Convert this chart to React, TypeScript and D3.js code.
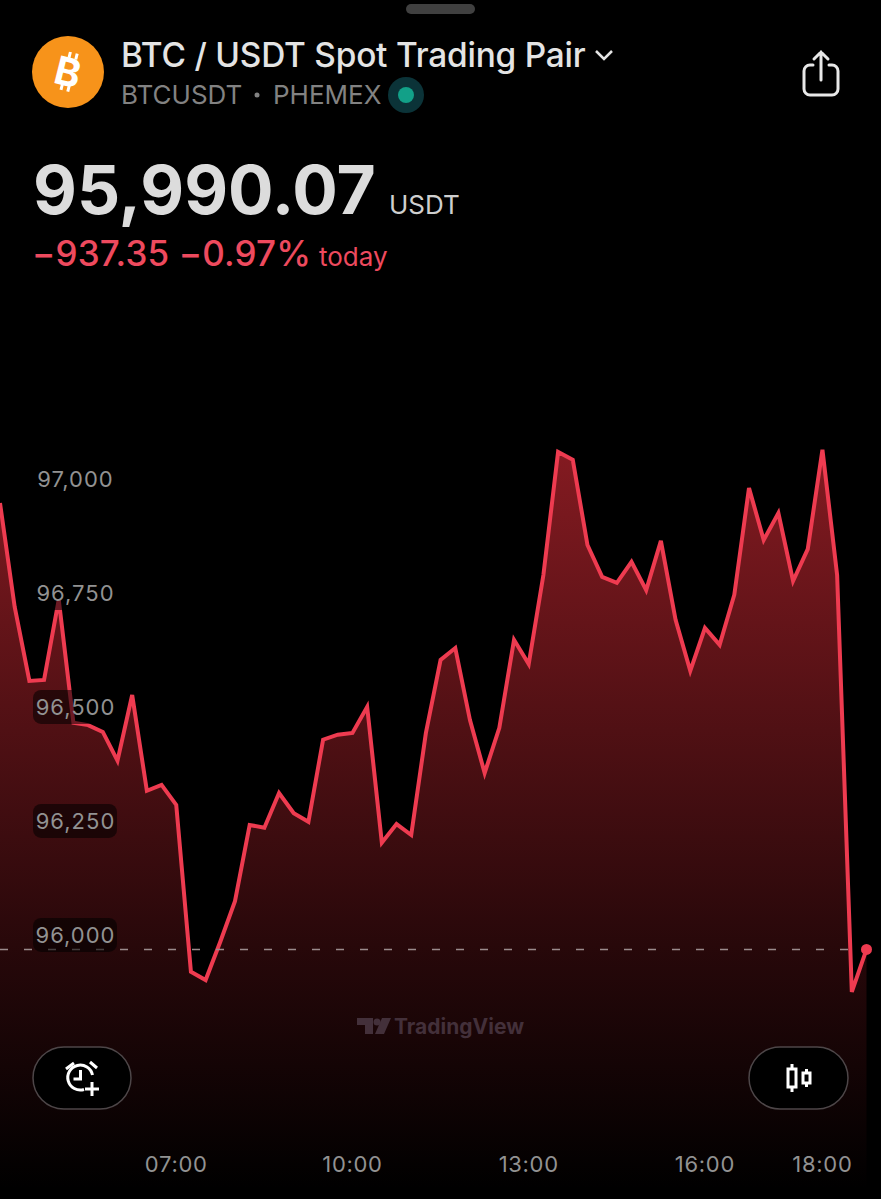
import { useEffect, useRef } from 'react';
import * as d3 from 'd3';

const width = 881;
const height = 1199;

// 15 minute closes, first one at 04:00
const startMinutes = 240;
const stepMinutes = 15;
const closes = [
  96969, 96741, 96579, 96581, 96757, 96487, 96482, 96467, 96404, 96548,
  96338, 96351, 96307, 95941, 95923, 96007, 96096, 96263, 96257, 96333,
  96289, 96270, 96450, 96461, 96465, 96522, 96224, 96265, 96241, 96465,
  96625, 96651, 96493, 96377, 96476, 96669, 96616, 96811, 97081, 97064,
  96877, 96807, 96794, 96840, 96778, 96886, 96713, 96601, 96695, 96658,
  96768, 97002, 96888, 96947, 96798, 96868, 97086, 96811, 95897, 95990.07,
];
const priceTicks = [97000, 96750, 96500, 96250, 96000];
const timeTicks = [420, 600, 780, 960, 1080];
const lastPrice = 95990.07;

const lineColor = '#ee3b50';
const font = 'Inter, "Liberation Sans", sans-serif';

export default function App() {
  const svgRef = useRef<SVGSVGElement>(null);

  useEffect(() => {
    if (!svgRef.current) return;
    const svg = d3.select(svgRef.current);
    svg.selectAll('*').remove();

    const x = d3.scaleLinear()
      .domain([startMinutes, startMinutes + (closes.length - 1) * stepMinutes])
      .range([0, 866.5]);
    const y = d3.scaleLinear().domain([96000, 97000]).range([944.9, 488.9]);
    const minutes = (i: number) => startMinutes + i * stepMinutes;

    const defs = svg.append('defs');
    const grad = defs.append('linearGradient')
      .attr('id', 'areaFill')
      .attr('gradientUnits', 'userSpaceOnUse')
      .attr('x1', 0).attr('x2', 0).attr('y1', 450).attr('y2', 1190);
    grad.append('stop').attr('offset', 0).attr('stop-color', '#f0303c').attr('stop-opacity', 0.55);
    grad.append('stop').attr('offset', 0.68).attr('stop-color', '#f0303c').attr('stop-opacity', 0.16);
    grad.append('stop').attr('offset', 1).attr('stop-color', '#f0303c').attr('stop-opacity', 0);

    // Area + line
    const area = d3.area<number>()
      .x((_, i) => x(minutes(i)))
      .y0(1199)
      .y1(d => y(d));
    const line = d3.line<number>()
      .x((_, i) => x(minutes(i)))
      .y(d => y(d));

    svg.append('path').datum(closes).attr('fill', 'url(#areaFill)').attr('d', area);
    svg.append('path')
      .datum(closes)
      .attr('fill', 'none')
      .attr('stroke', lineColor)
      .attr('stroke-width', 4)
      .attr('stroke-linejoin', 'miter')
      .attr('d', line);

    // Last price line
    svg.append('line')
      .attr('x1', 0).attr('x2', x(minutes(closes.length - 1)))
      .attr('y1', y(lastPrice)).attr('y2', y(lastPrice))
      .attr('stroke', '#9a8a8c')
      .attr('stroke-width', 1.5)
      .attr('stroke-dasharray', '8,16');
    svg.append('circle')
      .attr('cx', x(minutes(closes.length - 1)))
      .attr('cy', y(lastPrice))
      .attr('r', 5.5)
      .attr('fill', lineColor);

    // Price labels sit a little above their level
    const priceGroup = svg.append('g').selectAll('g').data(priceTicks).join('g')
      .attr('transform', d => `translate(0,${y(d) - 10})`);
    priceGroup.append('rect')
      .attr('x', 33).attr('y', -17).attr('width', 84).attr('height', 34).attr('rx', 8)
      .attr('fill', '#000').attr('fill-opacity', 0.55);
    priceGroup.append('text')
      .attr('x', 75.5).attr('y', 8)
      .attr('text-anchor', 'middle')
      .attr('fill', '#929292')
      .style('font-family', font).style('font-size', '22px').style('letter-spacing', '1px')
      .text(d => d3.format(',')(d));

    // Time labels
    svg.append('g').selectAll('text').data(timeTicks).join('text')
      .attr('x', d => x(d)).attr('y', 1172)
      .attr('text-anchor', 'middle')
      .attr('fill', '#929292')
      .style('font-family', font).style('font-size', '22px').style('letter-spacing', '0.7px')
      .text(d => d3.timeFormat('%H:%M')(new Date(2025, 0, 1, 0, d)));

    // Watermark
    const wm = svg.append('g').attr('fill', '#43303a');
    wm.append('path').attr('d', 'M357 1018h16v16h-8v-9h-8zM375 1034l7-16h9l-7 16z');
    wm.append('circle').attr('cx', 377).attr('cy', 1022).attr('r', 3.5);
    wm.append('text').attr('x', 394).attr('y', 1034)
      .style('font-family', font).style('font-size', '21px').style('font-weight', 700)
      .text('TradingView');

    // Buttons
    const btn = (bx: number, w: number) => svg.append('rect')
      .attr('x', bx).attr('y', 1047).attr('width', w).attr('height', 62).attr('rx', 31)
      .attr('fill', '#000').attr('stroke', '#4d4648').attr('stroke-width', 1.5);
    btn(33, 98);
    btn(749, 99);

    // Alarm icon
    const alarm = svg.append('g').attr('fill', 'none').attr('stroke', '#fff').attr('stroke-width', 3);
    alarm.append('path').attr('d', 'M92.5 1075A12.5 12.5 0 1 0 84 1089.5');
    alarm.append('path').attr('d', 'M80.5 1070v9h-7');
    alarm.append('path').attr('d', 'M66 1069l8-6M97 1068l-7-6');
    alarm.append('path').attr('d', 'M85 1089h14M92 1082v14');

    // Candles icon
    const candles = svg.append('g').attr('fill', 'none').attr('stroke', '#fff').attr('stroke-width', 3);
    candles.append('rect').attr('x', 788).attr('y', 1069).attr('width', 8).attr('height', 18);
    candles.append('path').attr('d', 'M792 1064v5M792 1087v5');
    candles.append('rect').attr('x', 803).attr('y', 1073).attr('width', 7).attr('height', 10);
    candles.append('path').attr('d', 'M806.5 1069v4M806.5 1083v4');

    // Header
    svg.append('rect').attr('x', 406).attr('y', 4).attr('width', 69).attr('height', 10).attr('rx', 5).attr('fill', '#404040');
    svg.append('circle').attr('cx', 68).attr('cy', 72).attr('r', 36).attr('fill', '#f7931a');
    const coin = svg.append('g').attr('transform', 'translate(68,72) rotate(14)').attr('fill', '#fff');
    coin.append('text').attr('text-anchor', 'middle').attr('y', 14)
      .style('font-family', font).style('font-size', '39px').style('font-weight', 700).text('B');
    coin.append('path').attr('d', 'M-4 -20h3v6h-3zM3 -20h3v6h-3zM-4 13h3v6h-3zM3 13h3v6h-3z');

    const label = (tx: number, ty: number, text: string, size: number, fill: string, weight = 400, spacing = 0) =>
      svg.append('text')
        .attr('x', tx).attr('y', ty).attr('fill', fill)
        .style('font-family', font).style('font-size', `${size}px`).style('font-weight', weight)
        .style('letter-spacing', `${spacing}px`)
        .text(text);

    label(121, 67, 'BTC / USDT Spot Trading Pair', 33.4, '#e4e4e4', 500, -0.2);
    label(121, 104, 'BTCUSDT', 26, '#828282');
    svg.append('circle').attr('cx', 257).attr('cy', 95).attr('r', 2.5).attr('fill', '#828282');
    label(273, 104, 'PHEMEX', 26, '#828282');
    svg.append('path').attr('d', 'M596 51l8 8 8-8').attr('fill', 'none').attr('stroke', '#e4e4e4').attr('stroke-width', 2.5);
    svg.append('circle').attr('cx', 406).attr('cy', 95).attr('r', 18).attr('fill', '#0b3338');
    svg.append('circle').attr('cx', 406).attr('cy', 95).attr('r', 8).attr('fill', '#12a088');

    svg.append('path')
      .attr('d', 'M813 65h-3a6 6 0 0 0-6 6v18a6 6 0 0 0 6 6h22a6 6 0 0 0 6-6v-18a6 6 0 0 0-6-6h-3M821 80v-28M814 59l7-7 7 7')
      .attr('fill', 'none').attr('stroke', '#e8e8e8').attr('stroke-width', 3).attr('stroke-linecap', 'round');

    label(33, 214, '95,990.07', 67.6, '#dcdcdc', 700);
    label(389, 214, 'USDT', 26, '#cfcfcf');
    label(32, 266, '−937.35 −0.97%', 35, '#ee4a5e', 500, 0.15);
    label(319, 266, 'today', 26, '#ee4a5e');
  }, []);

  return (
    <>
      <style>{'html,body{margin:0;padding:0;background:#000}'}</style>
      <svg ref={svgRef} width={width} height={height} style={{ display: 'block', background: '#000' }} />
    </>
  );
}
